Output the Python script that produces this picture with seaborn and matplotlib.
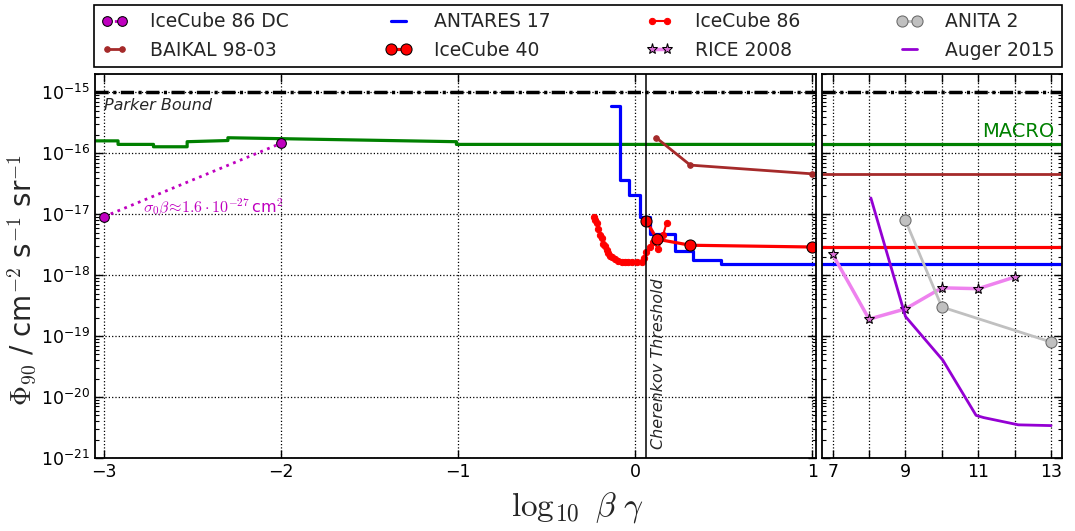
import matplotlib
matplotlib.use("Agg")
import matplotlib.pyplot as plt
import seaborn as sns

# ======================================================
# DATA
# ======================================================
PARKER = 1e-15

# left panel: log10(beta*gamma) from -3 to 1
macro_x = [-3.05, -2.92, -2.92, -2.72, -2.72, -2.53, -2.53, -2.30, -2.30, -1.01, -1.01, 1.02]
macro_y = [1.6e-16, 1.6e-16, 1.4e-16, 1.4e-16, 1.28e-16, 1.28e-16, 1.55e-16, 1.62e-16,
           1.8e-16, 1.55e-16, 1.4e-16, 1.4e-16]

dc_x = [-3.0, -2.0]
dc_y = [9.1e-18, 1.46e-16]

baikal_x = [0.118, 0.31, 1.0]
baikal_y = [1.8e-16, 6.4e-17, 4.6e-17]

antares_x = [-0.14, -0.085, -0.034, 0.024, 0.08, 0.225, 0.325, 0.485, 1.02]
antares_y = [6e-16, 3.6e-17, 2.1e-17, 9.1e-18, 4.7e-18, 2.5e-18, 1.8e-18, 1.5e-18, 1.5e-18]

ic40_x = [0.062, 0.122, 0.31, 1.0]
ic40_y = [7.8e-18, 3.9e-18, 3.1e-18, 2.9e-18]

ic86_x = [-0.236, -0.226, -0.217, -0.208, -0.198, -0.189, -0.18, -0.17, -0.161, -0.152,
          -0.142, -0.129, -0.114, -0.096, -0.077, -0.058, -0.039, -0.021, 0.007, 0.035,
          0.051, 0.063, 0.083, 0.101, 0.129, 0.157, 0.176]
ic86_y = [9.1e-18, 8.1e-18, 7.1e-18, 5.8e-18, 4.6e-18, 4.0e-18, 3.3e-18, 2.97e-18, 2.6e-18,
          2.35e-18, 2.1e-18, 1.98e-18, 1.85e-18, 1.73e-18, 1.67e-18, 1.65e-18, 1.62e-18,
          1.62e-18, 1.62e-18, 1.67e-18, 1.95e-18, 2.4e-18, 2.9e-18, 3.5e-18, 2.7e-18,
          4.6e-18, 7.1e-18]

CHERENKOV = 0.06

# right panel: log10(beta*gamma) from 7 to 13
rice_x = [7, 8, 9, 10, 11, 12]
rice_y = [2.2e-18, 1.9e-19, 2.8e-19, 6.2e-19, 6.0e-19, 9.3e-19]

anita_x = [9, 10, 13]
anita_y = [7.9e-18, 3.0e-19, 8.0e-20]

auger_x = [8.05, 9.0, 10.03, 10.94, 11.15, 12.1, 13.0]
auger_y = [1.85e-17, 2.1e-19, 4.0e-20, 5.0e-21, 4.6e-21, 3.5e-21, 3.4e-21]

left_ticks = [-3, -2, -1, 0, 1]
right_ticks = [7, 8, 9, 10, 11, 12, 13]
right_labels = ["7", "", "9", "", "11", "", "13"]

# ======================================================
# STYLE
# ======================================================
sns.set_style("ticks")
plt.rcParams["font.family"] = ["DejaVu Sans"]
plt.rcParams["mathtext.fontset"] = "dejavusans"

PARKER_DASH = (0, (3.8, 1.3, 0.9, 1.3))


def line(ax, x, y, **kw):
    sns.lineplot(x=x, y=y, ax=ax, estimator=None, sort=False, legend=False, **kw)


def style_axis(ax):
    ax.set_yscale("log")
    ax.set_ylim(1e-21, 2e-15)
    ax.grid(True, which="major", linestyle=":", color="black", linewidth=0.9)
    ax.set_axisbelow(True)
    ax.tick_params(which="both", direction="in", top=True, right=True,
                   labelsize=12.5, colors="black")
    ax.tick_params(which="major", length=6, width=1)
    ax.tick_params(which="minor", length=3, width=0.8)
    for s in ax.spines.values():
        s.set_linewidth(1.3)
        s.set_color("black")
    ax.set_xlabel("")
    ax.set_ylabel("")


# ======================================================
# PLOTTING
# ======================================================
fig = plt.figure(figsize=(10.75, 5.31), dpi=100)
ax1 = fig.add_axes([0.0884, 0.1375, 0.6707, 0.7231])
ax2 = fig.add_axes([0.7644, 0.1375, 0.2235, 0.7231])

for ax in (ax1, ax2):
    ax.set_yscale("log")

# ---- LEFT PANEL ----
ax1.axhline(PARKER, color="black", linestyle=PARKER_DASH, linewidth=2.5, zorder=3)
line(ax1, macro_x, macro_y, color="green", linewidth=2.3)
line(ax1, dc_x, dc_y, color="m", linewidth=2, linestyle=":", marker="o",
     markersize=7, markerfacecolor="m", markeredgecolor="black", label="IceCube 86 DC")
line(ax1, baikal_x, baikal_y, color="brown", linewidth=2, marker="o", markersize=4,
     markeredgecolor="brown", label="BAIKAL 98-03")
line(ax1, antares_x, antares_y, color="blue", linewidth=2.3, drawstyle="steps-post",
     label="ANTARES 17")
line(ax1, ic86_x, ic86_y, color="red", linewidth=1.5, marker="o", markersize=4.5,
     markeredgecolor="red", label="IceCube 86")
line(ax1, ic40_x, ic40_y, color="red", linewidth=2.3, marker="o", markersize=8,
     markeredgecolor="black", label="IceCube 40")
ax1.axvline(CHERENKOV, color="black", linewidth=1.1)

ax1.text(-3.0, 6.2e-16, "Parker Bound", style="italic", fontsize=11.5, ha="left", va="center")
ax1.text(0.13, 1.4e-21, "Cherenkov Threshold", style="italic", fontsize=11.5,
         rotation=90, ha="center", va="bottom")
ax1.text(-2.78, 1.3e-17, r"$\sigma_0\beta\!\approx\!1.6\cdot10^{-27}\,$cm$^2$",
         color="m", fontsize=11.5, ha="left", va="center", math_fontfamily="cm")

ax1.set_xlim(-3.05, 1.02)
ax1.set_xticks(left_ticks)
style_axis(ax1)

# ---- RIGHT PANEL ----
ax2.axhline(PARKER, color="black", linestyle=PARKER_DASH, linewidth=2.5, zorder=3)
ax2.axhline(macro_y[-1], color="green", linewidth=2.3)
ax2.axhline(baikal_y[-1], color="brown", linewidth=2)
ax2.axhline(ic40_y[-1], color="red", linewidth=2.3)
ax2.axhline(antares_y[-1], color="blue", linewidth=2.3)
line(ax2, rice_x, rice_y, color="violet", linewidth=2.5, marker="*", markersize=8,
     markerfacecolor="orchid", markeredgecolor="black", label="RICE 2008")
line(ax2, anita_x, anita_y, color="silver", linewidth=2, marker="o", markersize=8,
     markerfacecolor="silver", markeredgecolor="dimgray", label="ANITA 2")
line(ax2, auger_x, auger_y, color="darkviolet", linewidth=2, label="Auger 2015")
ax2.text(13.1, 2.25e-16, "MACRO", color="green", fontsize=14, ha="right", va="center")

ax2.set_xlim(6.7, 13.3)
ax2.set_xticks(right_ticks)
ax2.set_xticklabels(right_labels)
style_axis(ax2)
ax2.tick_params(labelleft=False)

# ---- LABELS ----
fig.text(0.02, 0.473, r"$\Phi_{90}$ / cm$^{-2}$ s$^{-1}$ sr$^{-1}$", rotation=90,
         fontsize=20, ha="center", va="center", math_fontfamily="cm")
fig.text(0.537, 0.045, r"$\log_{10}\ \beta\ \gamma$", fontsize=24, ha="center",
         va="center", math_fontfamily="cm")

# ---- LEGEND ----
h1, l1 = ax1.get_legend_handles_labels()
h2, l2 = ax2.get_legend_handles_labels()
lookup = dict(zip(l1 + l2, h1 + h2))
order = ["IceCube 86 DC", "BAIKAL 98-03", "ANTARES 17", "IceCube 40",
         "IceCube 86", "RICE 2008", "ANITA 2", "Auger 2015"]
leg = fig.legend([lookup[k] for k in order], order, loc="lower left", ncol=4,
                 bbox_to_anchor=(94 / 1075, 1 - 67 / 531, 968 / 1075, 62 / 531),
                 mode="expand", borderaxespad=0, fancybox=False, framealpha=1,
                 edgecolor="black", fontsize=13.5, numpoints=2, handlelength=1.4,
                 handletextpad=1.2)
leg.get_frame().set_linewidth(1.2)

fig.savefig("out.png", dpi=100)
